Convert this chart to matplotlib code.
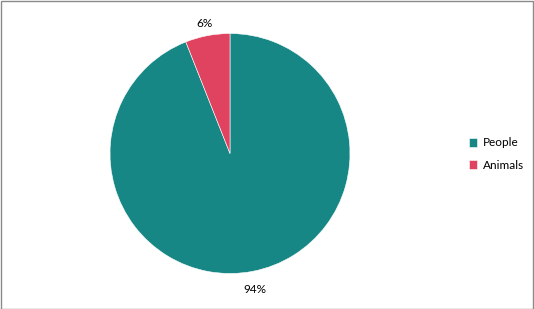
import matplotlib
matplotlib.use("Agg")
import matplotlib.pyplot as plt
from matplotlib.patches import Rectangle

categories = ["People", "Animals"]
values = [94, 6]
colors = ["#178785", "#E0435F"]

plt.rcParams['font.family'] = ['Lato', 'DejaVu Sans']

W, H = 534, 309
fig = plt.figure(figsize=(W / 100, H / 100), dpi=100)
cx, cy, r = 230, 155.5, 120
ax = fig.add_axes([(cx - r) / W, (cy - r) / H, 2 * r / W, 2 * r / H])
wedges, texts, autotexts = ax.pie(
    values, colors=colors, startangle=90, counterclock=False,
    autopct=lambda p: f"{p:.0f}%", pctdistance=1.12,
    wedgeprops=dict(edgecolor="white", linewidth=0.4),
    textprops=dict(fontsize=8.5, color="#000000"))
autotexts[1].set_y(autotexts[1].get_position()[1] - 0.02)
autotexts[0].set_y(autotexts[0].get_position()[1] - 0.03)
ax.set_xlim(-1, 1)
ax.set_ylim(-1, 1)
ax.set_aspect("auto")
ax.axis("off")

fig.legend(wedges, categories, loc="center left",
           bbox_to_anchor=(458 / W, 1 - 154 / H), frameon=False,
           fontsize=8.5, handlelength=0.75, handleheight=0.75,
           handletextpad=0.45, labelspacing=0.95)

fig.patches.append(Rectangle((0.5 / W, 0.5 / H), 1 - 1.5 / W, 1 - 1.5 / H,
                             transform=fig.transFigure, fill=False,
                             edgecolor="#8a8a8a", linewidth=1))
fig.savefig("out.png", dpi=100)
